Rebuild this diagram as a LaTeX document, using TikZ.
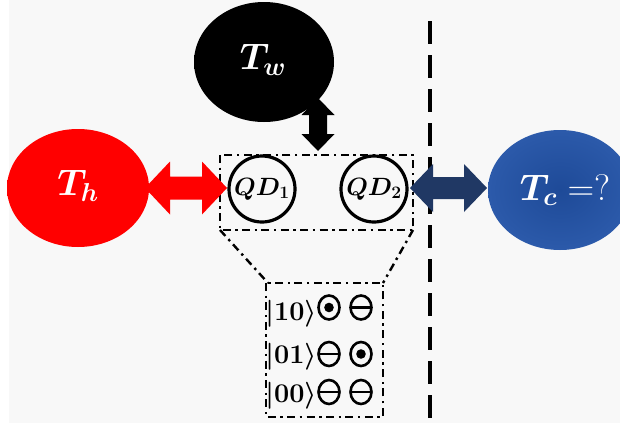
\RequirePackage{fix-cm}
\documentclass[tikz,border=0pt]{standalone}
\usepackage{amsmath,bm}
\definecolor{bgc}{HTML}{F8F8F8}
\definecolor{navy}{HTML}{203864}
\definecolor{bluec}{HTML}{1E4A98}
\definecolor{blued}{HTML}{2A58A8}
\definecolor{bluee}{HTML}{3765B6}
\pgfdeclareradialshading{redblob}{\pgfpoint{0bp}{0bp}}{color(0bp)=(red); color(40bp)=(red); color(50bp)=(bgc)}
\pgfdeclareradialshading{blackblob}{\pgfpoint{0bp}{0bp}}{color(0bp)=(black); color(40bp)=(black); color(50bp)=(bgc)}
\pgfdeclareradialshading{blueblob}{\pgfpoint{0bp}{0bp}}{color(0bp)=(bluec); color(22bp)=(blued); color(40bp)=(bluee); color(50bp)=(bgc)}
\tikzset{
  dashdot/.style={line width=2.4pt, dash pattern=on 8pt off 4.5pt on 2.4pt off 4.5pt},
  qdcirc/.style={circle, draw, line width=3.2pt, minimum size=66pt, inner sep=0pt, font=\fontsize{25}{27}\selectfont},
  blobtext/.style={text=white, font=\fontsize{37}{40}\selectfont},
  kettext/.style={anchor=base, font=\fontsize{27}{29}\selectfont},
  sym/.style={line width=2.6pt},
  dotc/.pic={\draw[sym] (0,0) ellipse [x radius=10.5pt, y radius=12pt]; \fill (0,0) circle [radius=4.8pt];},
  minc/.pic={\draw[sym] (0,0) ellipse [x radius=10.5pt, y radius=12pt]; \draw[sym] (-10.5pt,0) -- (10.5pt,0);}
}
\begin{document}
\begin{tikzpicture}[x=1pt,y=-1pt]
\useasboundingbox (0,0) rectangle (620,423);
\fill[white] (0,0) rectangle (620,423);
\fill[bgc] (9,0) rectangle (620,423);
% blobs
\shade[shading=blackblob] (264,62) ellipse [x radius=70pt, y radius=60pt];
\shade[shading=redblob] (78,188) ellipse [x radius=71pt, y radius=59pt];
\shade[shading=blueblob] (560,190) ellipse [x radius=72pt, y radius=60pt];
\node[blobtext] (tw) at (263,60) {$\bm{T_w}$};
\node[blobtext] (th) at (78,186) {$\bm{T_h}$};
\node[blobtext] (tc) at (565,190) {$\bm{T_c} =?$};
% dashed vertical line
\draw[line width=3.5pt, dash pattern=on 23pt off 11pt] (430,21) -- (430,423);
% top box and QDs
\draw[dashdot] (220,155) rectangle (413,230);
\node[qdcirc] (qd1) at (262,189) {$\bm{QD_1}$};
\node[qdcirc] (qd2) at (374,189) {$\bm{QD_2}$};
% trapezoid and lower box
\coordinate (bl) at (220,230);
\coordinate (br) at (413,230);
\coordinate (ll) at (268,283);
\coordinate (lr) at (383,283);
\draw[dashdot] (bl) -- (ll);
\draw[dashdot] (br) -- (lr);
\draw[dashdot] (266,283) rectangle (383,417);
% kets
\node[kettext] (k10) at (291,320) {$\bm{|10\rangle}$};
\node[kettext] (k01) at (291,363) {$\bm{|01\rangle}$};
\node[kettext] (k00) at (291,402) {$\bm{|00\rangle}$};
\pic at (329,307.5) {dotc};
\pic at (361,307.5) {minc};
\pic at (329,354) {minc};
\pic at (361,354) {dotc};
\pic at (329,392) {minc};
\pic at (361,392) {minc};
% arrows
\fill[red] (145,188) -- (170,161.5) -- (170,176.5) -- (202,176.5) -- (202,161.5) -- (227,188)
  -- (202,214.5) -- (202,199.5) -- (170,199.5) -- (170,214.5) -- cycle;
\fill[navy] (410,188) -- (433,164) -- (433,177) -- (464,177) -- (464,164) -- (487,188)
  -- (464,212) -- (464,199) -- (433,199) -- (433,212) -- cycle;
\fill[black] (318,98) -- (334.5,115) -- (327,115) -- (327,134) -- (334.5,134) -- (318,151)
  -- (301.5,134) -- (309,134) -- (309,115) -- (301.5,115) -- cycle;
\end{tikzpicture}
\end{document}
